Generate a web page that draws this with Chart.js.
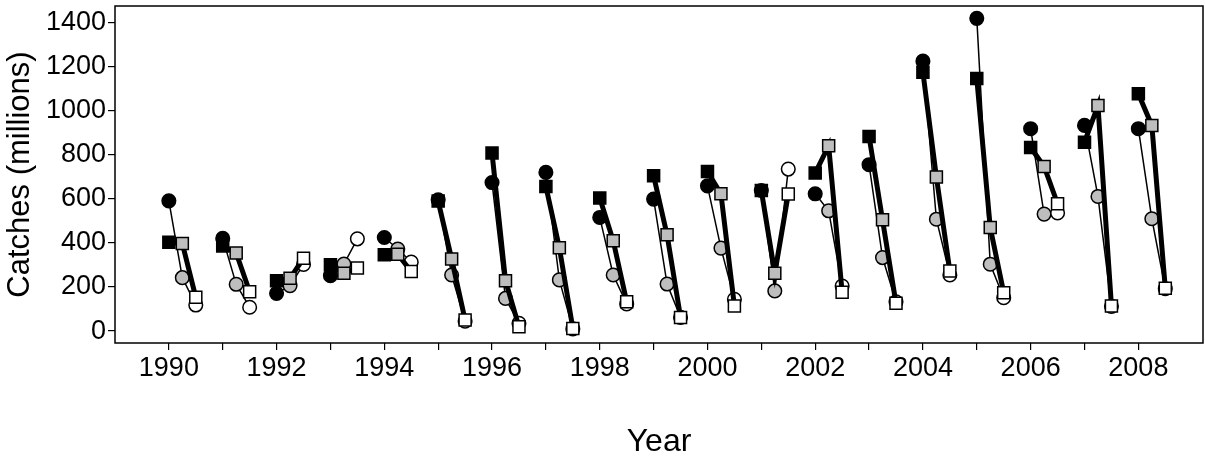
<!DOCTYPE html>
<html>
<head>
<meta charset="utf-8">
<script src="https://cdn.jsdelivr.net/npm/chart.js@4.4.1/dist/chart.umd.min.js"></script>
<style>
  html, body { margin: 0; padding: 0; background: #fff; }
  #wrap { width: 1205px; height: 459px; }
</style>
</head>
<body>
<div id="wrap"><canvas id="chart"></canvas></div>
<script>
const years = [1990, 1991, 1992, 1993, 1994, 1995, 1996, 1997, 1998, 1999,
               2000, 2001, 2002, 2003, 2004, 2005, 2006, 2007, 2008];
// circles (thin line): black, gray, white
const circBlack = [590, 420, 171, 251, 424, 595, 673, 719, 515, 598, 658, 637, 622, 754, 1223, 1417, 917, 932, 917];
const circGray  = [242, 212, 206, 304, 372, 254, 148, 232, 254, 213, 376, 182, 545, 333, 507, 303, 530, 610, 509];
const circWhite = [118, 108, 302, 418, 313, 45, 35, 10, 123, 62, 144, 734, 204, 133, 254, 151, 535, 112, 192];
// squares (thick line): black, gray, white
const sqBlack = [403, 386, 228, 300, 346, 589, 807, 655, 603, 704, 723, 637, 716, 882, 1173, 1144, 832, 856, 1075];
const sqGray  = [397, 354, 239, 262, 348, 327, 228, 378, 409, 436, 622, 262, 840, 504, 698, 469, 746, 1022, 932];
const sqWhite = [153, 178, 330, 286, 270, 50, 20, 12, 133, 62, 114, 621, 176, 126, 272, 174, 577, 114, 194];
const yTicks = [0, 200, 400, 600, 800, 1000, 1200, 1400];
const offsets = [0, 0.25, 0.5];
const fills = ['#000000', '#bebebe', '#ffffff'];

const font = "'Liberation Sans', Arial, Helvetica, sans-serif";

function group(yr, vals) {
  return vals.map((v, k) => ({ x: yr + offsets[k], y: v }));
}

const datasets = [];
// squares first so they sit on top
years.forEach((yr, i) => {
  datasets.push({
    data: group(yr, [sqBlack[i], sqGray[i], sqWhite[i]]),
    borderColor: '#000',
    borderWidth: 5,
    pointStyle: 'rect',
    pointRadius: 8.5,
    pointBorderWidth: 1.5,
    pointBorderColor: '#000',
    pointBackgroundColor: fills
  });
});
years.forEach((yr, i) => {
  datasets.push({
    data: group(yr, [circBlack[i], circGray[i], circWhite[i]]),
    borderColor: '#000',
    borderWidth: 1.5,
    pointStyle: 'circle',
    pointRadius: 6.8,
    pointBorderWidth: 1.5,
    pointBorderColor: '#000',
    pointBackgroundColor: fills
  });
});

const boxPlugin = {
  id: 'box',
  afterDraw(chart) {
    const a = chart.chartArea, ctx = chart.ctx;
    ctx.save();
    ctx.strokeStyle = '#000';
    ctx.lineWidth = 1.5;
    ctx.strokeRect(a.left, a.top, a.right - a.left, a.bottom - a.top);
    ctx.restore();
  }
};

new Chart(document.getElementById('chart'), {
  type: 'line',
  data: { datasets },
  plugins: [boxPlugin],
  options: {
    responsive: true,
    maintainAspectRatio: false,
    animation: false,
    layout: { autoPadding: false, padding: { top: 6, right: 2, left: 0, bottom: 0 } },
    plugins: { legend: { display: false }, tooltip: { enabled: false } },
    scales: {
      x: {
        type: 'linear',
        min: 1989,
        max: 2009.2,
        afterBuildTicks: s => { s.ticks = years.map(v => ({ value: v })); },
        afterFit: s => { s.height = 116; s.paddingLeft = 0; s.paddingRight = 0; },
        grid: { drawOnChartArea: false, tickLength: 7, color: '#000', lineWidth: 1.2 },
        border: { display: false },
        ticks: {
          autoSkip: false,
          maxRotation: 0,
          padding: 2,
          color: '#000',
          font: { family: font, size: 27 },
          callback: v => (v % 2 === 0 ? String(v) : '')
        },
        title: {
          display: true,
          text: 'Year',
          color: '#000',
          font: { family: font, size: 32, lineHeight: 1.0 },
          padding: { top: 0, bottom: 1 }
        }
      },
      y: {
        min: -54,
        max: 1473,
        afterBuildTicks: s => { s.ticks = yTicks.map(v => ({ value: v })); },
        afterFit: s => { s.width = 115; s.paddingTop = 0; s.paddingBottom = 0; },
        grid: { drawOnChartArea: false, tickLength: 7, color: '#000', lineWidth: 1.2 },
        border: { display: false },
        ticks: {
          padding: 2,
          color: '#000',
          font: { family: font, size: 27 },
          callback: v => String(v)
        },
        title: {
          display: true,
          text: 'Catches (millions)',
          color: '#000',
          font: { family: font, size: 31 },
          padding: { top: 2, bottom: 0 }
        }
      }
    }
  }
});
</script>
</body>
</html>
